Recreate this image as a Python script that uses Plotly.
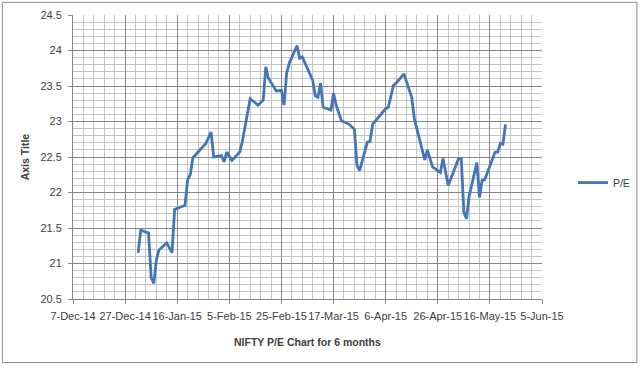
import plotly.graph_objects as go

dates = [
    "2015-01-01", "2015-01-02", "2015-01-05", "2015-01-06", "2015-01-07", "2015-01-08",
    "2015-01-09", "2015-01-12", "2015-01-14", "2015-01-15", "2015-01-19", "2015-01-20",
    "2015-01-21", "2015-01-22", "2015-01-27", "2015-01-29", "2015-01-30", "2015-02-02",
    "2015-02-03", "2015-02-04", "2015-02-06", "2015-02-09", "2015-02-10", "2015-02-13",
    "2015-02-16", "2015-02-18", "2015-02-19", "2015-02-20", "2015-02-23", "2015-02-25",
    "2015-02-26", "2015-02-27", "2015-02-28", "2015-03-03", "2015-03-04", "2015-03-05",
    "2015-03-09", "2015-03-10", "2015-03-11", "2015-03-12", "2015-03-13", "2015-03-16",
    "2015-03-17", "2015-03-18", "2015-03-20", "2015-03-23", "2015-03-25", "2015-03-26",
    "2015-03-27", "2015-03-30", "2015-03-31", "2015-04-01", "2015-04-06", "2015-04-07",
    "2015-04-09", "2015-04-10", "2015-04-13", "2015-04-16", "2015-04-17", "2015-04-21",
    "2015-04-22", "2015-04-24", "2015-04-27", "2015-04-28", "2015-04-30", "2015-05-04",
    "2015-05-05", "2015-05-06", "2015-05-07", "2015-05-08", "2015-05-11", "2015-05-12",
    "2015-05-13", "2015-05-14", "2015-05-18", "2015-05-19", "2015-05-20", "2015-05-21",
    "2015-05-22",
]
pe_values = [
    21.15, 21.47, 21.43, 20.80, 20.72, 21.05,
    21.19, 21.29, 21.15, 21.76, 21.82, 22.18,
    22.25, 22.49, 22.69, 22.85, 22.50, 22.52,
    22.43, 22.57, 22.45, 22.57, 22.72, 23.32,
    23.23, 23.30, 23.77, 23.61, 23.43, 23.44,
    23.23, 23.68, 23.82, 24.07, 23.89, 23.91,
    23.58, 23.36, 23.34, 23.54, 23.20, 23.16,
    23.40, 23.23, 23.01, 22.96, 22.89, 22.38,
    22.31, 22.71, 22.72, 22.96, 23.18, 23.20,
    23.51, 23.54, 23.67, 23.34, 23.04, 22.46,
    22.60, 22.36, 22.28, 22.48, 22.10, 22.48,
    22.48, 21.73, 21.63, 21.94, 22.42, 21.93,
    22.17, 22.18, 22.57, 22.57, 22.69, 22.68,
    22.96,
]

x_tick_vals = ["2014-12-07", "2014-12-27", "2015-01-16", "2015-02-05", "2015-02-25",
               "2015-03-17", "2015-04-06", "2015-04-26", "2015-05-16", "2015-06-05"]
x_tick_text = ["7-Dec-14", "27-Dec-14", "16-Jan-15", "5-Feb-15", "25-Feb-15",
               "17-Mar-15", "6-Apr-15", "26-Apr-15", "16-May-15", "5-Jun-15"]
y_tick_vals = [20.5, 21, 21.5, 22, 22.5, 23, 23.5, 24, 24.5]
y_tick_text = ["20.5", "21", "21.5", "22", "22.5", "23", "23.5", "24", "24.5"]

series_name = "P/E"
x_title = "NIFTY P/E Chart for 6 months"
y_title = "Axis Title"

FONT = "Liberation Sans"
TXT = "#404040"
MAJOR = "#868686"
MINOR = "#c4c4c4"

fig = go.Figure()
fig.add_trace(go.Scatter(
    x=dates, y=pe_values, mode="lines", name=series_name,
    line=dict(color="#4376b8", width=2.8),
))

fig.update_layout(
    width=640, height=366,
    margin=dict(l=73, r=98, t=15, b=67, autoexpand=False),
    paper_bgcolor="white", plot_bgcolor="white",
    font=dict(family=FONT, size=10, color=TXT),
    showlegend=True,
    legend=dict(x=1.066, y=0.41, xanchor="left", yanchor="middle",
                font=dict(family=FONT, size=10.5, color=TXT),
                bgcolor="rgba(0,0,0,0)"),
    shapes=[dict(type="rect", xref="paper", yref="paper",
                 x0=-0.1506, x1=1.2024, y0=-0.2238, y1=1.0446,
                 line=dict(color="#8a8a8a", width=1), layer="below")],
    annotations=[
        dict(text="<b>" + x_title + "</b>", xref="paper", yref="paper",
             x=0.5, y=-0.150, xanchor="center", yanchor="middle", showarrow=False,
             font=dict(family=FONT, size=10.5, color=TXT)),
        dict(text="<b>" + y_title + "</b>", xref="paper", yref="paper",
             x=-0.1016, y=0.5, xanchor="center", yanchor="middle", showarrow=False,
             textangle=-90, font=dict(family=FONT, size=10.5, color=TXT)),
    ],
)

fig.update_xaxes(
    type="date", range=["2014-12-07", "2015-06-05"], automargin=False,
    tickmode="array", tickvals=x_tick_vals, ticktext=x_tick_text, tickangle=0,
    ticks="outside", ticklen=4, tickcolor=MAJOR, ticklabelstandoff=3,
    tickfont=dict(family=FONT, size=11, color=TXT),
    showgrid=True, gridcolor=MAJOR, gridwidth=1,
    minor=dict(showgrid=True, gridcolor=MINOR, gridwidth=1,
               tick0="2014-12-07", dtick=4 * 86400000, ticks=""),
    showline=True, linecolor=MAJOR, linewidth=1,
    zeroline=False,
)
fig.update_yaxes(
    range=[20.5, 24.5], automargin=False,
    tickmode="array", tickvals=y_tick_vals, ticktext=y_tick_text,
    ticks="outside", ticklen=4, tickcolor=MAJOR, ticklabelstandoff=4,
    tickfont=dict(family=FONT, size=11, color=TXT),
    showgrid=True, gridcolor=MAJOR, gridwidth=1,
    minor=dict(showgrid=True, gridcolor=MINOR, gridwidth=1,
               tick0=20.5, dtick=0.1, ticks=""),
    showline=True, linecolor=MAJOR, linewidth=1,
    zeroline=False,
)

fig.write_html("out.html", config={"displayModeBar": False},
               post_script="document.body.style.margin='0';")
